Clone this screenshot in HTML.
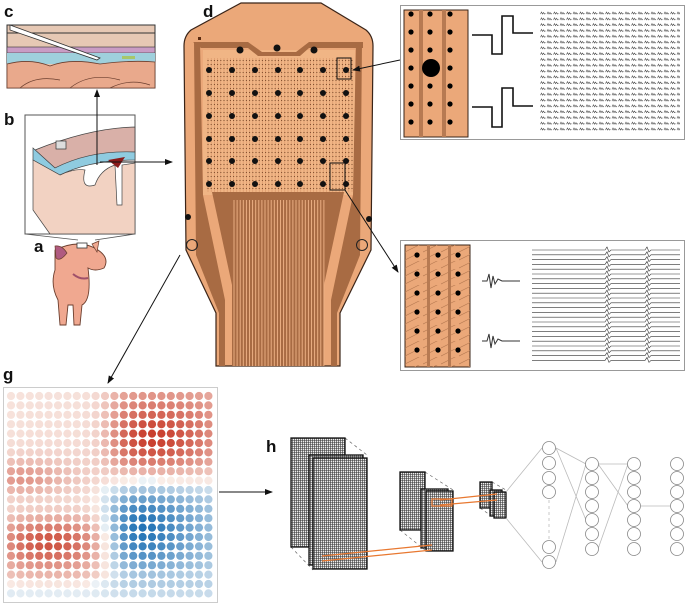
<!DOCTYPE html>
<html><head><meta charset="utf-8"><style>
html,body{margin:0;padding:0;background:#fff}
svg{display:block}
text{font-family:"Liberation Sans",sans-serif;font-weight:bold;font-size:17px;fill:#111}
</style></head><body>
<svg id="s" width="685" height="606" viewBox="0 0 685 606" xmlns="http://www.w3.org/2000/svg">
<defs>
<marker id="ar" markerWidth="8" markerHeight="8" refX="7" refY="4" orient="auto"><path d="M0,1 L8,4 L0,7z" fill="#111"/></marker>
<pattern id="mesh" width="2" height="2" patternUnits="userSpaceOnUse"><rect width="2" height="2" fill="#eee"/><path d="M0,0.5H2M0.5,0V2" stroke="#333" stroke-width="0.6"/></pattern>
<pattern id="wv" x="540" y="11" width="6.5" height="5.8" patternUnits="userSpaceOnUse"><path d="M0.5,3 L1.5,1 L2.5,3 L3.5,1.5 L4.5,3 L5.5,2.5" stroke="#444" stroke-width="0.6" fill="none"/></pattern>
<pattern id="tr" x="405" y="245" width="18" height="8" patternUnits="userSpaceOnUse"><path d="M-2,8 L18,-2" stroke="#b77a52" stroke-width="0.6"/></pattern>
</defs>

<text x="4" y="17">c</text>
<rect x="7" y="25" width="148" height="63" fill="#e6c8b4" stroke="#333"/>
<line x1="7" y1="33" x2="155" y2="33" stroke="#333"/>
<rect x="7" y="47" width="148" height="6" fill="#c99cc4" stroke="#333" stroke-width="0.6"/>
<rect x="7" y="53" width="148" height="11" fill="#9fd0dc"/>
<path d="M7,64 Q30,58 50,66 Q70,58 100,64 Q130,60 155,62 V88 H7z" fill="#e9a98c" stroke="#6b3e2e" stroke-width="0.8"/>
<path d="M20,88 Q35,75 60,80 M70,88 Q90,72 120,80 M110,88 Q130,78 150,85" stroke="#6b3e2e" stroke-width="0.7" fill="none"/>
<path d="M10,25 L100,58 L97,60 L10,30z" fill="#fff" stroke="#333" stroke-width="0.8"/>
<rect x="122" y="56" width="13" height="3" fill="#a7c76a"/>

<text x="4" y="125">b</text>
<rect x="25" y="115" width="110" height="119" fill="#fff" stroke="#555"/>
<path d="M35,150 Q90,128 135,127 V152 Q90,152 55,168z" fill="#d9b0a8" stroke="#444" stroke-width="0.8"/>
<path d="M33,148 L55,168 Q90,150 135,152 V160 Q90,160 60,175 L33,160z" fill="#8fcbe0" stroke="#444" stroke-width="0.7"/>
<path d="M33,160 L60,175 Q75,168 85,170 Q80,190 95,185 Q100,170 115,165 L117,205 L122,205 L122,165 L135,163 V234 H50 L33,210z" fill="#f2d2c2" stroke="#444" stroke-width="0.7"/>
<path d="M108,160 L125,157 L118,168z" fill="#8a1a1a"/>
<rect x="56" y="141" width="10" height="8" fill="#ddd" stroke="#333" stroke-width="0.7"/>
<path d="M25,234 L78,240 M135,234 L95,240" stroke="#555" stroke-width="0.8"/>
<line x1="97" y1="165" x2="97" y2="90" stroke="#111" marker-end="url(#ar)"/>
<line x1="100" y1="162" x2="172" y2="162" stroke="#111" marker-end="url(#ar)"/>

<text x="34" y="252">a</text>
<path d="M55,250 Q80,238 98,250 Q110,258 104,268 Q95,272 88,268 Q92,300 82,305 L80,325 L74,325 L73,305 L68,305 L66,325 L60,325 L58,300 Q50,285 55,270z" fill="#f0a890" stroke="#6b3e2e" stroke-width="0.9"/>
<path d="M55,246 Q62,245 67,253 Q60,262 56,258z" fill="#b05a80" stroke="#6b3e2e" stroke-width="0.7"/>
<path d="M92,244 L99,241 L97,252z" fill="#f0a890" stroke="#6b3e2e" stroke-width="0.7"/>
<path d="M73,274 Q80,280 88,278" stroke="#a0506a" stroke-width="2" fill="none"/>
<rect x="77" y="243" width="10" height="5" fill="#fff" stroke="#333" stroke-width="0.8"/>

<text x="203" y="17">d</text>
<path d="M241,3 L321,3 L366,30 Q373,36 373,46 L371,250 L340,313 L340,366 L216,366 L216,313 L186,250 L184,46 Q184,36 191,30z" fill="#eba879" stroke="#3a2418" stroke-width="1.2"/>
<rect x="203" y="50" width="152" height="145" fill="#f0b585"/>
<path d="M193,42 L248,42 L262,52 L296,52 L309,42 L363,42 L363,48 L309,48 L300,56 L258,56 L248,48 L201,48z" fill="#a86b43"/>
<path d="M194,42 L200,42 L203,195 L225,300 L225,366 L219,366 L219,313 L196,255z" fill="#a86b43"/>
<path d="M362,42 L356,42 L353,195 L331,300 L331,366 L337,366 L337,313 L360,255z" fill="#a86b43"/>
<g id="probe"></g>
<path d="M212,192 L232,285 L232,366 L324,366 L324,285 L344,192z" fill="#a86b43"/>
<g id="tails"></g>
<circle cx="192" cy="245" r="5.5" fill="none" stroke="#222"/>
<circle cx="362" cy="245" r="5.5" fill="none" stroke="#222"/>
<circle cx="188" cy="217" r="3" fill="#111"/>
<circle cx="369" cy="219" r="3" fill="#111"/>
<circle cx="240" cy="50" r="3.5" fill="#111"/><circle cx="277" cy="48" r="3.5" fill="#111"/><circle cx="314" cy="50" r="3.5" fill="#111"/>
<rect x="198" y="37" width="3" height="3" fill="#5a2a10"/>
<rect x="337" y="58" width="14" height="21" fill="none" stroke="#111"/>
<rect x="330" y="163" width="15" height="27" fill="none" stroke="#111"/>
<line x1="400" y1="60" x2="353" y2="70" stroke="#111" marker-end="url(#ar)"/>
<line x1="345" y1="190" x2="398" y2="272" stroke="#111" marker-end="url(#ar)"/>
<line x1="180" y1="255" x2="108" y2="383" stroke="#111" marker-end="url(#ar)"/>

<text x="412" y="17">e</text>
<rect x="400.5" y="5.5" width="284" height="134" fill="#fff" stroke="#999"/>
<rect x="404" y="10" width="64" height="127" fill="#eba879" stroke="#3a2418"/>
<rect x="419" y="10" width="4" height="127" fill="#b77a52"/><rect x="442" y="10" width="4" height="127" fill="#b77a52"/>
<g id="edots"></g>
<circle cx="431" cy="68" r="9" fill="#000"/>
<path d="M472,35 H492 V54 H502 V16 H513 V33 H533" stroke="#111" stroke-width="1.6" fill="none"/>
<path d="M472,107 H492 V127 H502 V88 H513 V106 H533" stroke="#111" stroke-width="1.6" fill="none"/>
<rect x="540" y="11" width="140" height="122" fill="url(#wv)"/>

<text x="412" y="254">f</text>
<rect x="400.5" y="240.5" width="284" height="130" fill="#fff" stroke="#999"/>
<rect x="405" y="245" width="65" height="122" fill="#eba879" stroke="#3a2418"/>
<rect x="405" y="245" width="65" height="122" fill="url(#tr)"/>
<rect x="427" y="245" width="3" height="122" fill="#b77a52"/><rect x="448" y="245" width="3" height="122" fill="#b77a52"/>
<g id="fdots"></g>
<path d="M482,281 H487 L489,274 L491,288 L493,276 L495,284 L498,279 L502,281 H520" stroke="#333" fill="none"/>
<path d="M482,341 H487 L489,334 L491,348 L493,336 L495,344 L498,339 L502,341 H520" stroke="#333" fill="none"/>
<g id="ftr"></g>

<text x="3" y="380">g</text>
<rect x="3.5" y="387.5" width="214" height="215" fill="#fff" stroke="#ccc"/>
<g id="gdots"></g>
<line x1="219" y1="492" x2="272" y2="492" stroke="#111" marker-end="url(#ar)"/>

<text x="266" y="452">h</text>
<g stroke="#666" stroke-width="0.7" stroke-dasharray="3,3" fill="none">
<path d="M345,438 L367,455 M291,547 L313,570 M425,472 L453,490 M400,530 L425,550 M492,482 L506,490 M480,508 L493,517"/>
</g>
<g stroke="#111" stroke-width="1.3">
<rect x="291" y="438" width="54" height="109" fill="url(#mesh)"/>
<rect x="309" y="455" width="54" height="110" fill="url(#mesh)"/>
<rect x="313" y="458" width="54" height="111" fill="url(#mesh)"/>
<rect x="400" y="472" width="25" height="58" fill="url(#mesh)"/>
<rect x="421" y="489" width="27" height="59" fill="url(#mesh)"/>
<rect x="426" y="491" width="27" height="60" fill="url(#mesh)"/>
<rect x="480" y="482" width="12" height="26" fill="url(#mesh)"/>
<rect x="490" y="490" width="12" height="26" fill="url(#mesh)"/>
<rect x="494" y="492" width="12" height="26" fill="url(#mesh)"/>
</g>
<g stroke="#e87830" stroke-width="1.2" fill="none">
<path d="M322,556 L432,545 M322,561 L432,550"/>
<rect x="432" y="499" width="20" height="7"/>
<path d="M440,500 L497,494 M440,505 L497,500"/>
</g>
<g id="nn" stroke="#bbb" stroke-width="0.8" fill="none"></g>
</svg>
<script>
const NS="http://www.w3.org/2000/svg";
function el(p,t,a){const e=document.createElementNS(NS,t);for(const k in a)e.setAttribute(k,a[k]);document.getElementById(p).appendChild(e);return e;}
for(let x=208;x<=352;x+=3.2){el("probe","line",{x1:x,y1:58,x2:x,y2:192,stroke:"#d99466","stroke-width":0.6});}
for(let y=60;y<=190;y+=4){for(let x=208;x<=352;x+=3.2){el("probe","rect",{x:x-0.5,y:y,width:1,height:1,fill:"#7a4a2a"});}}
const cx=[209,232,255,278,300,323,346],cy=[70,93,116,139,161,184];
for(const y of cy)for(const x of cx)el("probe","circle",{cx:x,cy:y,r:3,fill:"#111"});
for(let i=0;i<30;i++){const x=234+i*3.1;el("tails","line",{x1:x,y1:200,x2:x,y2:366,stroke:"#f0b488","stroke-width":0.9});}
for(const y of [14,32,50,68,86,104,122])for(const x of [411,430,450]){if(!(x==430&&y==68))el("edots","circle",{cx:x,cy:y,r:2.6,fill:"#000"});}
for(const y of [255,274,293,312,331,350])for(const x of [417,438,458])el("fdots","circle",{cx:x,cy:y,r:2.6,fill:"#000"});
for(let i=0;i<24;i++){const y=250+i*4.8;el("ftr","path",{d:`M532,${y} H605 L607,${y-3} L609,${y+2} L611,${y} H645 L647,${y-3} L649,${y+2} L651,${y} H680`,stroke:"#333","stroke-width":0.6,fill:"none"});}
function sg(x){return 1/(1+Math.exp(-x));}
function win(v,a,b,s){return sg((v-a)/s)*sg((b-v)/s);}
function g(c,r,x0,y0,sx,sy){return Math.exp(-((c-x0)**2/(2*sx*sx)+(r-y0)**2/(2*sy*sy)));}
for(let r=0;r<22;r++)for(let c=0;c<22;c++){
 let v=0;
 v+= win(c,10.5,23,0.8)*win(r,-2,8.5,0.9)*(0.45+0.55*g(c,r,15,4.5,4,2.5));
 v-= win(c,10.5,23,0.8)*win(r,9.5,19.5,0.9)*(0.35+0.65*g(c,r,13.5,14,4,3.5));
 v+= win(c,-2,10.5,0.9)*win(r,12.5,20,0.9)*(0.3+0.6*g(c,r,4,15.5,4,2));
 v+= win(c,-2,10.5,1.2)*win(r,5.5,10.5,0.9)*(0.15+0.5*g(c,r,0,9,4,1.5));
 v+= 0.08*win(c,-2,10.5,1)*win(r,-2,5.5,1);
 if(r>=20)v-=0.12;
 v=Math.max(-1,Math.min(1,v));
 let col;
 if(v>=0){const a=v;col=`rgb(${Math.round(250-50*a)},${Math.round(238-178*a)},${Math.round(232-190*a)})`;}
 else{const a=-v;col=`rgb(${Math.round(236-206*a)},${Math.round(242-130*a)},${Math.round(246-66*a)})`;}
 el("gdots","circle",{cx:11+c*9.4,cy:396+r*9.4,r:4.1,fill:col});
}
const L=[[549,[448,463,478,492,547,562]],[592,[464,478,492,506,520,534,549]],[634,[464,478,492,506,520,534,549]],[677,[464,478,492,506,520,534,549]]];
el("nn","path",{d:"M506,492 L542,448 M506,518 L542,562 M556,448 L586,464 M556,448 L586,520 M556,562 L586,464 M598,464 L628,464 M598,464 L628,506 M598,549 L628,464 M641,506 L670,506"});
el("nn","line",{x1:549,y1:500,x2:549,y2:540,"stroke-dasharray":"3,3"});
for(const [x,ys] of L)for(const y of ys)el("nn","circle",{cx:x,cy:y,r:6.5,fill:"#fff",stroke:"#888"});
</script>
</body></html>
